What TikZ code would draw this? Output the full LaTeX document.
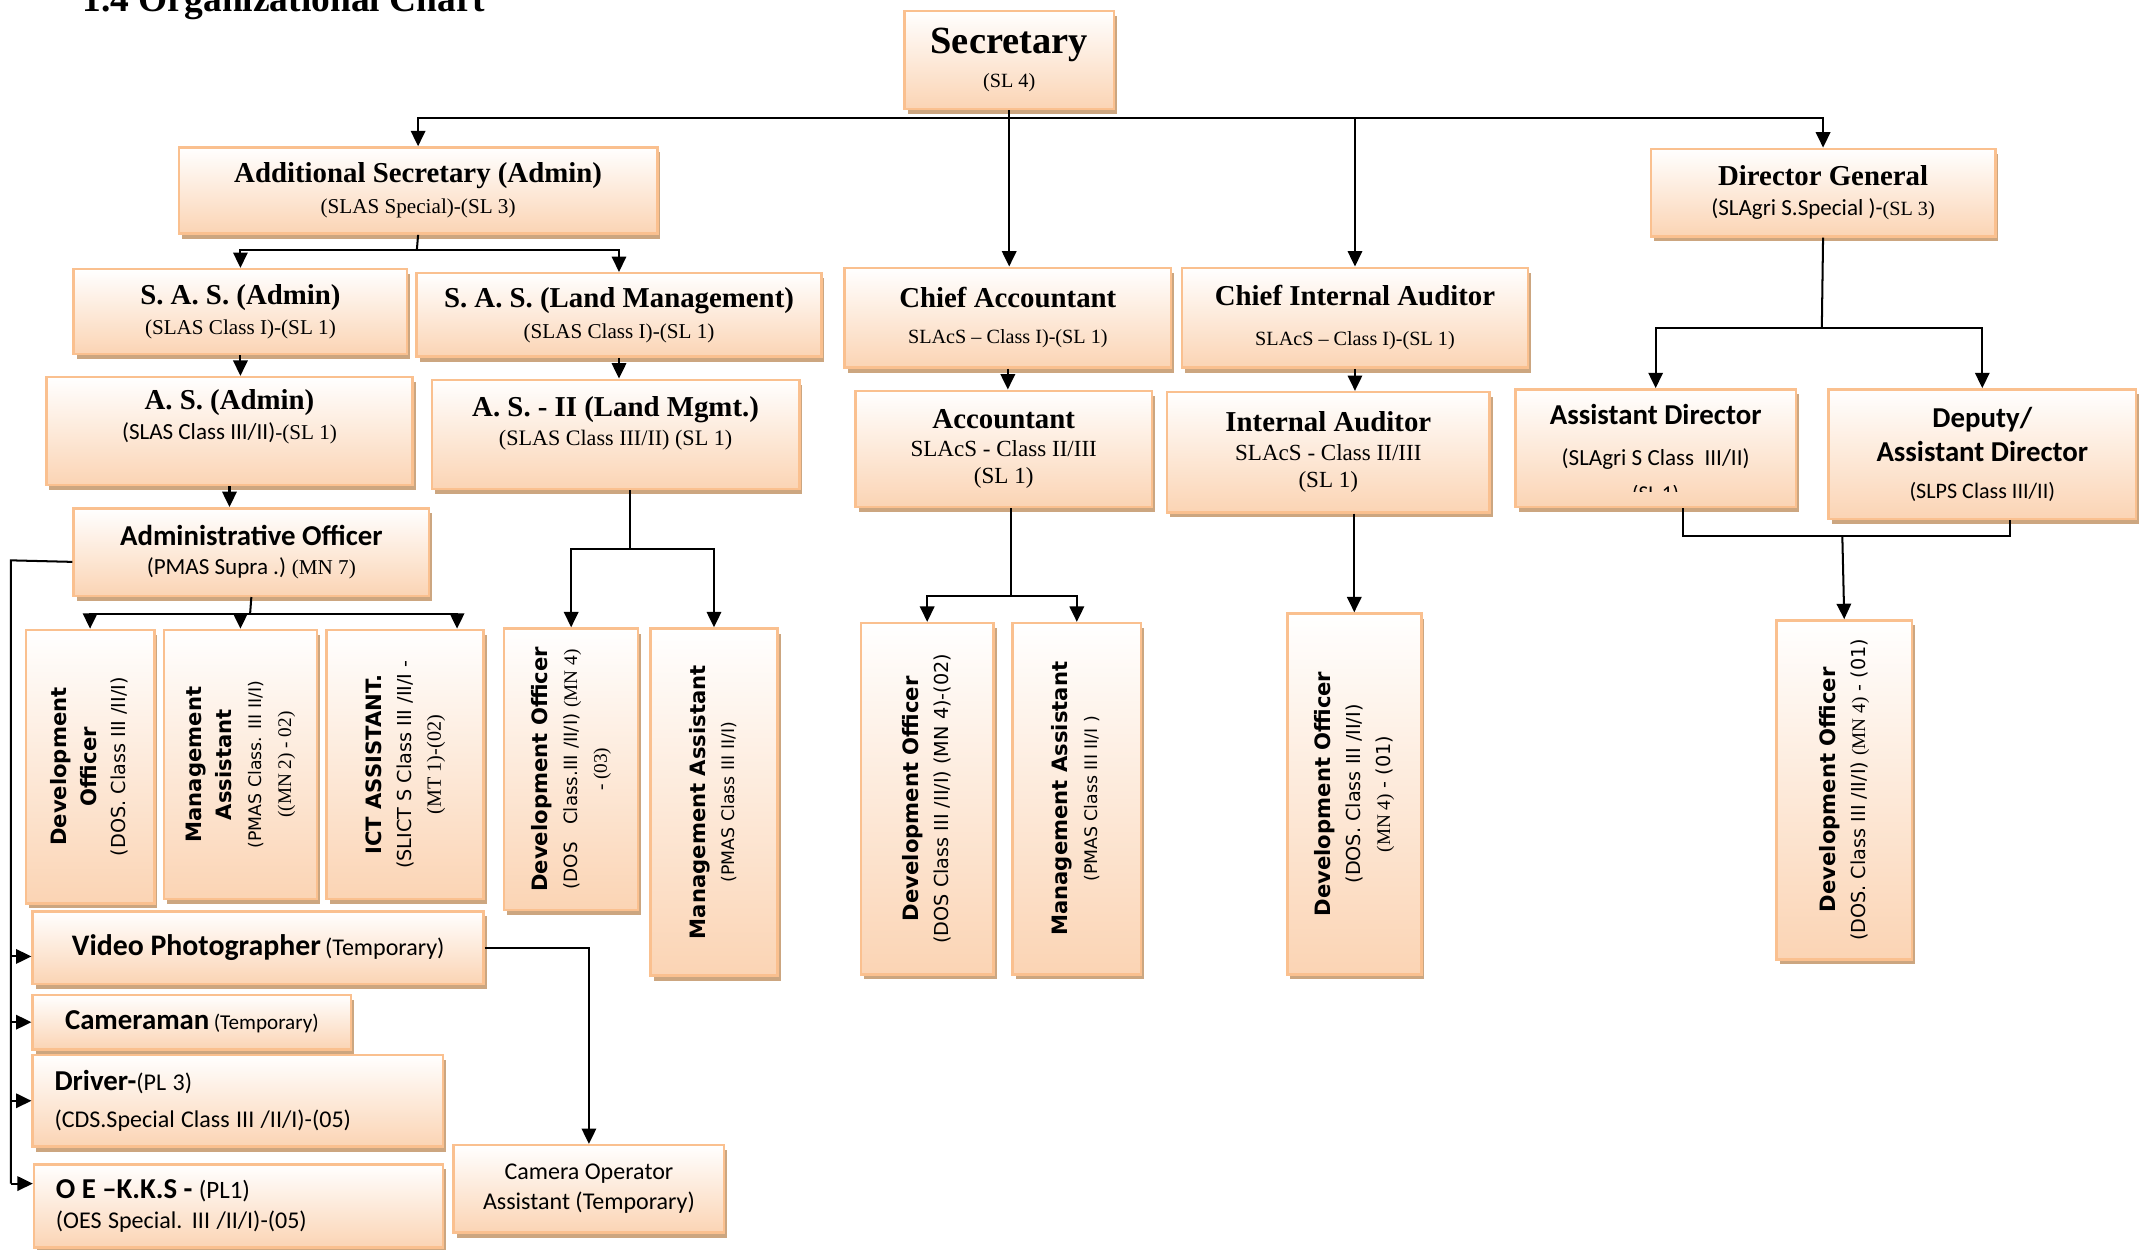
\documentclass[tikz,border=0pt]{standalone}
\usepackage{fontspec}
\setmainfont{Liberation Serif}
\newfontfamily\calfont{Carlito}
\newfontfamily\verfont{DejaVu Sans}
\usepackage{graphicx}
\usepackage{trimclip}
\usetikzlibrary{arrows.meta,shadows,positioning}

\definecolor{postline}{RGB}{250,192,143}
\definecolor{postfill}{RGB}{251,212,180}
\definecolor{postshadow}{RGB}{204,166,128}

\newcommand\fs[2]{\fontsize{#1}{#2}\selectfont}
% turned label for the tall boxes
\newcommand\vlab[1]{\rotatebox{90}{\verfont\fs{11}{15.5}%
  \begin{tabular}{@{}c@{}}#1\end{tabular}}}

\tikzset{
  basic/.style = {draw=postline, line width=1.3pt, rectangle, inner sep=2pt,
    top color=white, bottom color=postfill, anchor=north west,
    drop shadow={shadow xshift=1.6pt, shadow yshift=-2.6pt, fill=postshadow, opacity=1}},
  wh/.style 2 args = {minimum width=#1*0.025cm, minimum height=#2*0.025cm},
  post/.style  = {basic, align=center, font=\fs{10}{15}},
  postc/.style = {basic, align=center, font=\calfont\fs{10}{15}},
  postl/.style = {basic, align=left, font=\calfont\fs{10}{15}, inner xsep=0.4cm},
  tall/.style  = {basic, inner sep=0pt},
  lift/.style  = {text depth=#1}
}

\begin{document}
\begin{tikzpicture}[x=0.025cm, y=-0.025cm, line width=1.05pt,
    >={Triangle[length=8pt,width=7.5pt]}]
\useasboundingbox (0,0) rectangle (1568,914);

\node[anchor=base west, font=\fs{19.5}{23}\bfseries] (title) at (55,8.5) {1.4 Organizational Chart};

% head of the office, level 1
\node[post, wh={153}{72}] (sec) at (661,7)
  {{\fs{20}{24}\bfseries Secretary}\\[3pt]{\fs{10.5}{12}(SL 4)}};

% The second level
\node[post, wh={350}{63}] (addsec) at (130,107)
  {{\fs{15}{18}\bfseries Additional Secretary (Admin)}\\[1pt]{\fs{11}{13}(SLAS Special)-(SL 3)}};
\node[post, wh={239}{73}] (chacc) at (617,195)
  {{\fs{15}{18}\bfseries Chief Accountant}\\[4pt]{\fs{10.5}{12}SLAcS – Class I)-(SL 1)}};
\node[post, wh={253}{73}] (cia) at (864,195)
  {{\fs{15}{18}\bfseries Chief Internal Auditor}\\[6pt]{\fs{10.5}{12}SLAcS – Class I)-(SL 1)}};
\node[post, wh={252}{64}] (dg) at (1207,108)
  {{\fs{15}{18}\bfseries Director General}\\[0.5pt]{\calfont\fs{12}{14}(SLAgri S.Special )-}{\fs{10.5}{12}(SL 3)}};

% The third level
\node[post, wh={244}{62}] (sasadm) at (53,196)
  {{\fs{15}{18}\bfseries S. A. S. (Admin)}\\[0.5pt]{\fs{11}{13}(SLAS Class I)-(SL 1)}};
\node[post, wh={296}{61}] (sasland) at (304,199)
  {{\fs{15}{18}\bfseries S. A. S. (Land Management)}\\[1pt]{\fs{11}{13}(SLAS Class I)-(SL 1)}};
\node[post, wh={268}{79}, lift=17pt] (asadm) at (33,275)
  {{\fs{15}{18}\bfseries A. S. (Admin)}\\[0.5pt]{\calfont\fs{12}{14}(SLAS Class III/II)}{\fs{11}{13}-(SL 1)}};
\node[post, wh={269}{80}, lift=14pt] (as2) at (315,277)
  {{\fs{15}{18}\bfseries A. S. - II (Land Mgmt.)}\\{\fs{11.5}{13}(SLAS Class III/II) (SL 1)}};
\node[post, wh={217}{85}] (acc) at (625,285)
  {{\fs{15}{18}\bfseries Accountant}\\{\fs{12}{14}SLAcS - Class II/III}\\[-1pt]{\fs{12}{14}(SL 1)}};
\node[post, wh={236}{88}] (ia) at (853,286)
  {{\fs{15}{18}\bfseries Internal Auditor}\\{\fs{12}{14}SLAcS - Class II/III}\\[-1pt]{\fs{12}{14}(SL 1)}};
\node[postc, wh={205}{86}] (ad) at (1108,284)
  {{\fs{15}{18}\bfseries Assistant Director}\\[6pt]{\fs{12}{14}(SLAgri S Class \ III/II)}\\[-1pt]{\fs{11}{13}\clipbox{0pt 6pt 0pt 0pt}{(SL 1)}}};
\node[postc, wh={225}{95}] (dad) at (1337,284)
  {{\fs{15}{18}\bfseries Deputy/}\\[3pt]{\fs{15}{18}\bfseries Assistant Director}\\[4pt]{\fs{11.5}{13}(SLPS Class III/II)}};
\node[postc, wh={260}{64}] (ao) at (53,371)
  {{\fs{15}{18}\bfseries Administrative Officer}\\{\fs{12}{14}(PMAS Supra .)} {\rmfamily\fs{11}{13}(MN 7)}};

% the tall boxes
\node[tall, wh={94}{200}] (do1) at (18,460)
  {\vlab{\bfseries Development\\ \bfseries Officer\\ \fs{10}{12}(DOS. Class III /II/I)}};
\node[tall, wh={112}{197}] (ma1) at (119,460)
  {\vlab{\bfseries Management\\ \bfseries Assistant\\ \fs{9}{11}(PMAS Class. III II/I)\\ \rmfamily\fs{10}{12}((MN 2) - 02)}};
\node[tall, wh={115}{197}] (ict) at (238,460)
  {\vlab{\bfseries ICT ASSISTANT.\\ \fs{10}{12}(SLICT S Class III /II/I -\\ \rmfamily\fs{10.5}{12}(MT 1)-(02)}};
\node[tall, wh={98}{206}] (do2) at (368,459)
  {\vlab{\bfseries Development Officer\\ \fs{9.5}{12}(DOS \ \ Class.III /II/I) {\rmfamily\fs{10}{12}(MN 4)}\\ \rmfamily\fs{10}{12}- (03)}};
\node[tall, wh={93}{254}] (ma2) at (475,459)
  {\vlab{\bfseries Management Assistant\\ \fs{9}{11}(PMAS Class III II/I)}};
\node[tall, wh={97}{257}] (do3) at (629,455)
  {\vlab{\bfseries Development Officer\\ \fs{10}{12}(DOS Class III /II/I) (MN 4)-(02)}};
\node[tall, wh={94}{257}] (ma3) at (740,455)
  {\vlab{\bfseries Management Assistant\\ \fs{9}{11}(PMAS Class III II/I )}};
\node[tall, wh={98}{264}] (do4) at (941,448)
  {\vlab{\bfseries Development Officer\\ \fs{10}{12}(DOS. Class III /II/I)\\ \fs{10}{12}{\rmfamily (MN 4)} - (01)}};
\node[tall, wh={99}{248}] (do5) at (1299,453)
  {\vlab{\bfseries Development Officer\\ \fs{10}{12}(DOS. Class III /II/I) {\rmfamily (MN 4)} - (01)}};

% the staff on the left
\node[postc, wh={330}{53}] (video) at (23,666)
  {{\fs{15.5}{18}\bfseries Video Photographer} {\fs{12.5}{14}(Temporary)}};
\node[postc, wh={233}{40}] (cam) at (23,727)
  {{\fs{15}{18}\bfseries Cameraman} {\fs{11}{13}(Temporary)}};
\node[postl, wh={300}{67}, text width=6.7cm] (driver) at (23,771)
  {{\fs{15}{18}\bfseries Driver-}{\fs{12.5}{15}(PL 3)}\\[4pt]{\fs{12.5}{15}(CDS.Special Class III /II/I)-(05)}};
\node[postl, wh={299}{61}, text width=6.675cm] (oe) at (24,851)
  {{\fs{15}{18}\bfseries O E –K.K.S - }{\fs{13}{15}(PL1)}\\[1pt]{\fs{12.5}{15}(OES Special. III /II/I)-(05)}};
\node[postc, wh={198}{64}] (camop) at (331,837)
  {{\fs{12.5}{15}Camera Operator}\\[0.5pt]{\fs{12.5}{15}Assistant (Temporary)}};

% lines from the secretary to the second level
\coordinate (top bus) at (737,86);
\draw[->] (sec.south) -- (sec.south |- chacc.north);
\foreach \n in {addsec,cia,dg}
  \draw[->] (top bus) -| (\n.north);

% additional secretary and its branch
\coordinate (adm bus) at (305,183);
\draw (addsec.south) -- (adm bus);
\foreach \n in {sasadm,sasland}
  \draw[->] (adm bus) -| (\n.north);
\draw[->] (sasadm.south) -- (sasadm.south |- asadm.north);
\draw[->] (sasland.south) -- (sasland.south |- as2.north);
\draw[->] (asadm.south) -- (asadm.south |- ao.north);

\coordinate (ao bus) at (183,449);
\draw (ao.south) -- (ao bus);
\foreach \n in {do1,ma1}
  \draw[->] (ao bus) -| (\n.north);
\draw[->] (ao bus) -| ([xshift=0.95cm]ict.north);

% spine on the left
\coordinate (spine) at (8,410);
\draw ([yshift=-0.18cm]ao.west) -- (spine) -- ([yshift=0.41cm]oe.west -| spine);
\foreach \n/\s in {video/-0.16,cam/0,driver/0,oe/0.41}
  \draw[->] ([yshift=\s cm]\n.west -| spine) -- ([yshift=\s cm]\n.west);
\draw[->] (video.east) -| (camop.north);

\coordinate (as2 bus) at (461,402);
\draw (as2 bus |- as2.south) -- (as2 bus);
\foreach \n in {do2,ma2}
  \draw[->] (as2 bus) -| (\n.north);

% accounts and audit
\draw[->] (chacc.south) -- (chacc.south |- acc.north);
\draw[->] (cia.south) -- (cia.south |- ia.north);
\coordinate (acc bus) at (740,436);
\draw (acc bus |- acc.south) -- (acc bus);
\foreach \n in {do3,ma3}
  \draw[->] (acc bus) -| (\n.north);
\draw[->] (do4.north |- ia.south) -- (do4.north);

% director general
\coordinate (dg bus) at (1333,240);
\draw (dg.south) -- (dg bus);
\foreach \n in {ad,dad}
  \draw[->] (dg bus) -| (\n.north);
\coordinate (dir bus) at (1348,392);
\draw ([xshift=0.5cm]ad.south) |- (dir bus) -| ([xshift=0.5cm]dad.south);
\draw[->] (dir bus) -- (do5.north);
\end{tikzpicture}
\end{document}
